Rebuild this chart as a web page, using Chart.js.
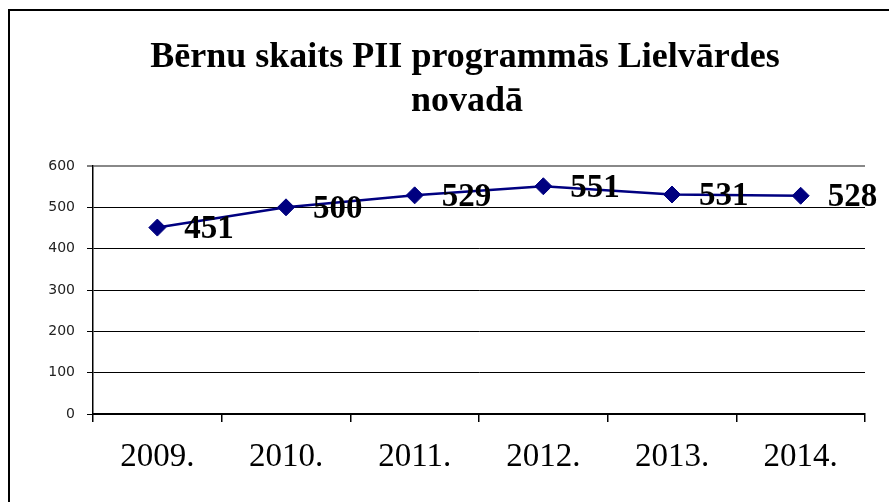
<!DOCTYPE html>
<html>
<head>
<meta charset="utf-8">
<script src="https://cdn.jsdelivr.net/npm/chart.js@4/dist/chart.umd.min.js"></script>
<style>
html,body{margin:0;padding:0;background:#fff;}
#wrap{position:relative;width:889px;height:502px;}
</style>
</head>
<body>
<div id="wrap"><canvas id="c" width="889" height="502"></canvas></div>
<script>
const titleLines = ['Bērnu skaits PII programmās Lielvārdes', 'novadā'];
const years = ['2009.', '2010.', '2011.', '2012.', '2013.', '2014.'];
const children = [451, 500, 529, 551, 531, 528];
const yTicks = [0, 100, 200, 300, 400, 500, 600];

const frameAndTitle = {
  id: 'frameAndTitle',
  beforeDraw(chart) {
    const ctx = chart.ctx;
    ctx.save();
    ctx.fillStyle = '#fff';
    ctx.fillRect(0, 0, chart.width, chart.height);
    ctx.strokeStyle = '#000';
    ctx.lineWidth = 2;
    ctx.strokeRect(9, 10, 1000, 1000);
    ctx.fillStyle = '#000';
    ctx.font = 'bold 36px "Liberation Serif", "Times New Roman", serif';
    ctx.textAlign = 'center';
    ctx.textBaseline = 'alphabetic';
    ctx.fillText(titleLines[0], 465, 67);
    ctx.fillText(titleLines[1], 467, 111);
    ctx.restore();
  }
};

const valueLabels = {
  id: 'valueLabels',
  afterDatasetsDraw(chart) {
    const ctx = chart.ctx;
    const meta = chart.getDatasetMeta(0);
    ctx.save();
    ctx.fillStyle = '#000';
    ctx.font = 'bold 33px "Liberation Serif", "Times New Roman", serif';
    ctx.textAlign = 'left';
    ctx.textBaseline = 'middle';
    meta.data.forEach((pt, i) => {
      ctx.fillText(String(children[i]), pt.x + 27, pt.y + 2);
    });
    ctx.restore();
  }
};

new Chart(document.getElementById('c'), {
  type: 'line',
  data: {
    labels: years,
    datasets: [{
      data: children,
      borderColor: '#000080',
      backgroundColor: '#000080',
      borderWidth: 2.5,
      pointStyle: 'rectRot',
      pointRadius: 8.5,
      pointBackgroundColor: '#000080',
      pointBorderColor: '#000080',
      pointBorderWidth: 1,
      tension: 0,
      fill: false
    }]
  },
  options: {
    responsive: false,
    animation: false,
    devicePixelRatio: 1,
    layout: { padding: { left: 0, right: 24, top: 166, bottom: 0 } },
    plugins: { legend: { display: false }, title: { display: false }, tooltip: { enabled: false } },
    scales: {
      x: {
        type: 'category',
        offset: true,
        grid: {
          offset: true,
          color: (c) => c.index === years.length ? '#888' : 'rgba(0,0,0,0)',
          tickColor: '#000',
          tickLength: 8,
          lineWidth: 1.5,
          tickWidth: 1.5
        },
        border: { color: '#000', width: 2 },
        ticks: {
          color: '#000',
          font: { family: '"Liberation Serif", "Times New Roman", serif', size: 33 },
          padding: 16,
          maxRotation: 0,
          autoSkip: false
        },
        afterFit(s) { s.height = 88; }
      },
      y: {
        min: 0,
        max: 600,
        afterBuildTicks(s) { s.ticks = yTicks.map(v => ({ value: v })); },
        grid: {
          color: (c) => c.tick && c.tick.value === 600 ? '#888' : '#000',
          lineWidth: (c) => c.tick && c.tick.value === 600 ? 2 : 1,
          tickColor: '#000',
          tickLength: 6,
          tickWidth: 1
        },
        border: { color: '#000', width: 1.5 },
        ticks: {
          color: '#222',
          font: { family: '"DejaVu Sans", Arial, sans-serif', size: 14 },
          padding: 12
        },
        afterFit(s) { s.width = 93; }
      }
    }
  },
  plugins: [frameAndTitle, valueLabels]
});
</script>
</body>
</html>
